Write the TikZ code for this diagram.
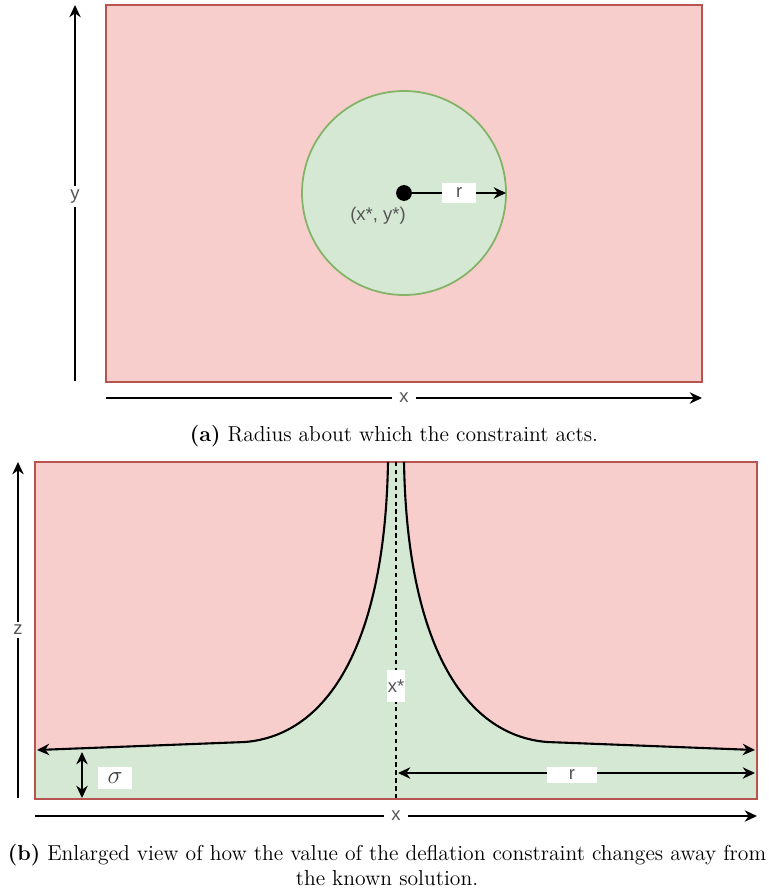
\documentclass[tikz,border=0pt]{standalone}
\usepackage{fontspec}
\newfontfamily\diagfont{Liberation Sans}
\usetikzlibrary{arrows.meta}
\definecolor{regionred}{HTML}{F8CECC}
\definecolor{edgered}{HTML}{B85450}
\definecolor{regiongreen}{HTML}{D5E8D4}
\definecolor{edgegreen}{HTML}{82B366}
\definecolor{labelgray}{HTML}{555555}

\tikzset{
  axisline/.style={->, line width=1pt},
  axislabel/.style={font=\diagfont\fontsize{10.5}{12}\selectfont, text=labelgray, fill=white, inner sep=2pt},
  boxlabel/.style={axislabel, inner sep=1pt},
  captiontext/.style={font=\fontsize{12.3}{14.5}\selectfont, align=center}
}

\begin{document}
\begin{tikzpicture}[x=0.02cm, y=-0.02cm, >={Stealth[length=7pt, width=6.5pt]}]
\useasboundingbox (0,0) rectangle (768,888);

\begin{scope}
\filldraw[fill=regionred, draw=edgered, line width=1pt] (106,5) rectangle (702,382);
\filldraw[fill=regiongreen, draw=edgegreen, line width=1pt] (404,193) circle (102);

\node[circle, fill=black, inner sep=0pt, minimum size=9pt] (centre) at (404,193) {};
\coordinate (rim) at (506,193);
\draw[->, line width=1pt] (centre) -- node[boxlabel, minimum width=19pt, minimum height=11pt]{r} (rim);
\node[axislabel, fill=none] (optimum) at (378,216) {(x*, y*)};

\coordinate (ylow) at (75,381);
\coordinate (yhigh) at (75,5);
\draw[axisline] (ylow) -- node[axislabel, pos=0.49]{y} (yhigh);
\coordinate (xleft) at (106,398);
\coordinate (xright) at (702,398);
\draw[axisline] (xleft) -- node[axislabel, inner xsep=4pt]{x} (xright);

\node[captiontext] (capa) at (394,436) {\textbf{(a)} Radius about which the constraint acts.};
\end{scope}

\begin{scope}
\fill[regionred] (35,462) rectangle (757,799);
\fill[regiongreen] (388,462) .. controls (385,640) and (330,735) .. (245,742) -- (35,750) -- (35,799)
  -- (757,799) -- (757,750) -- (547,742) .. controls (462,735) and (407,640) .. (404,462) -- cycle;
\draw[edgered, line width=1pt] (35,462) rectangle (757,799);

\coordinate (topleft) at (388,462);
\coordinate (bendleft) at (245,742);
\coordinate (endleft) at (37,750);
\coordinate (topright) at (404,462);
\coordinate (bendright) at (547,742);
\coordinate (endright) at (755,750);
\draw[->, line width=1.2pt] (topleft) .. controls (385,640) and (330,735) .. (bendleft) -- (endleft);
\draw[->, line width=1.2pt] (topright) .. controls (407,640) and (462,735) .. (bendright) -- (endright);

\coordinate (midtop) at (396,462);
\coordinate (midlow) at (396,799);
\draw[dashed, dash pattern=on 2.5pt off 2pt, line width=1pt] (midtop) -- (midlow);
\node[boxlabel, minimum height=18pt, inner xsep=0.5pt] (xstar) at (396,686) {x*};

\coordinate (sigtop) at (82,752);
\coordinate (siglow) at (82,798);
\draw[<->, line width=1pt] (sigtop) -- (siglow);
\node[boxlabel, text=black!75, minimum width=19pt, minimum height=13pt, font=\fontsize{14}{14}\selectfont] (sigma) at (115,778) {$\sigma$};

\coordinate (rleft) at (398,773);
\coordinate (rright) at (755,773);
\draw[<->, line width=1pt] (rleft) -- (rright);
\node[boxlabel, minimum width=28pt, minimum height=9pt] (rlabel) at (572,775) {r};

\coordinate (zlow) at (18,798);
\coordinate (zhigh) at (18,462);
\draw[axisline] (zlow) -- node[axislabel]{z} (zhigh);
\coordinate (xbleft) at (35,816);
\coordinate (xbright) at (757,816);
\draw[axisline] (xbleft) -- node[axislabel, inner xsep=4pt]{x} (xbright);

\node[captiontext] (capb) at (387,865) {\textbf{(b)} Enlarged view of how the value of the deflation constraint changes away from\\the known solution.};
\end{scope}
\end{tikzpicture}
\end{document}
